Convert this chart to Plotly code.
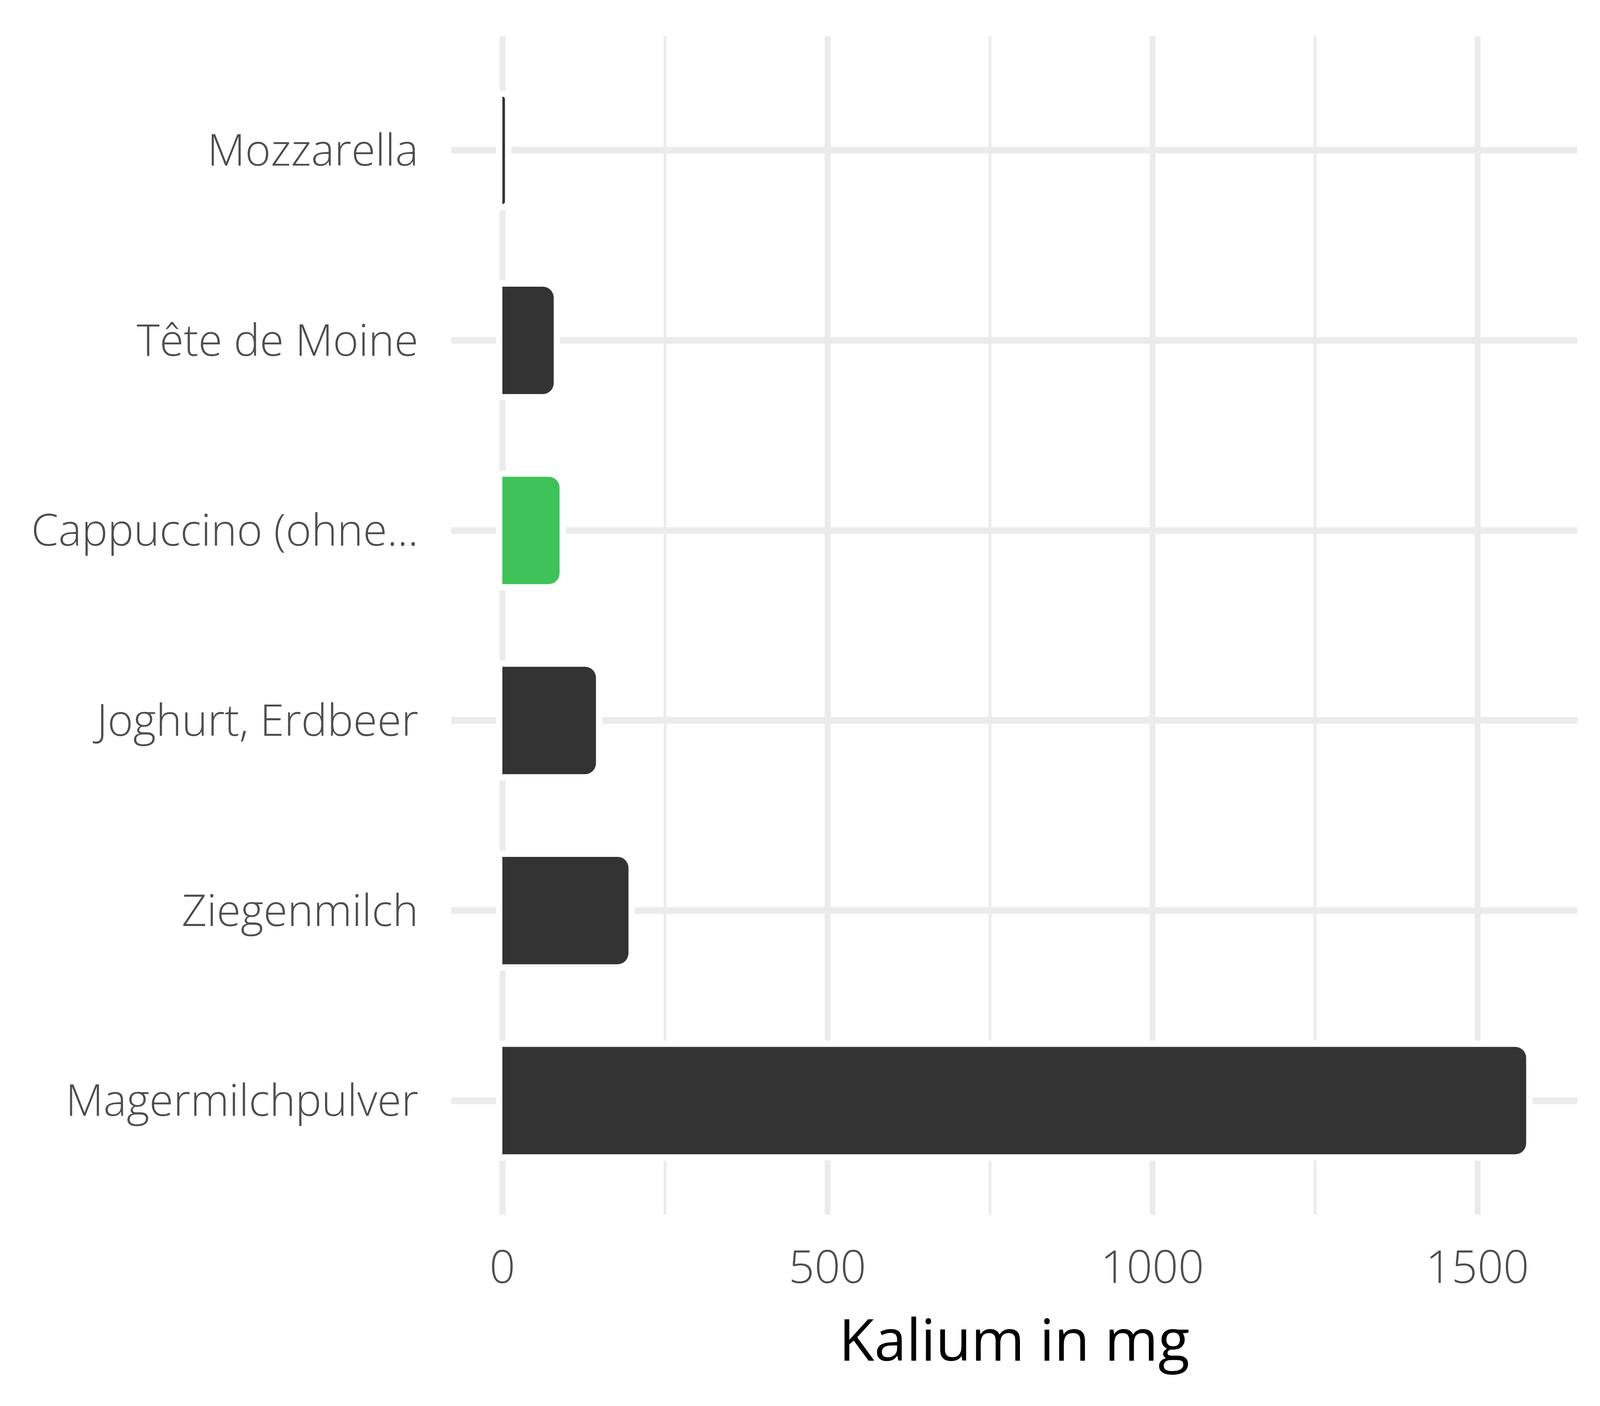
import plotly.graph_objects as go

categories = ["Mozzarella", "Tête de Moine", "Cappuccino (ohne...", "Joghurt, Erdbeer", "Ziegenmilch", "Magermilchpulver"]
kalium_mg = [4, 79, 88, 144, 194, 1575]
bar_colors = ["#333333", "#333333", "#3EC259", "#333333", "#333333", "#333333"]
x_ticks = [0, 500, 1000, 1500]
x_tick_labels = ["0", "500", "1000", "1500"]

fig = go.Figure()
# white halo behind bars (hides grid lines around the bars)
fig.add_trace(go.Bar(
    x=kalium_mg, y=categories, orientation="h", width=0.565,
    marker=dict(color="white", line=dict(color="white", width=32), cornerradius=28),
    hoverinfo="skip", showlegend=False,
))
fig.add_trace(go.Bar(
    x=kalium_mg, y=categories, orientation="h", width=0.565,
    marker=dict(color=bar_colors, line=dict(width=0), cornerradius=28),
    showlegend=False,
))

fig.update_layout(
    barmode="overlay",
    autosize=True,
    margin=dict(l=1147, r=50, t=85, b=482),
    plot_bgcolor="white", paper_bgcolor="white",
    font=dict(family="Open Sans", color="#4D4D4D"),
)
fig.update_xaxes(
    range=[-78.75, 1653.75],
    tickvals=x_ticks, ticktext=x_tick_labels,
    showgrid=True, gridcolor="#EBEBEB", gridwidth=14.5,
    minor=dict(tick0=0, dtick=250, showgrid=True, gridcolor="#EBEBEB", gridwidth=7.3),
    zeroline=False, showline=False, ticks="",
    tickfont=dict(size=116, color="#4D4D4D", family="Open Sans", weight=300),
    ticklabelstandoff=58,
    title=dict(text="Kalium in mg", font=dict(size=148, color="#000000", family="Open Sans"), standoff=62),
)
fig.update_yaxes(
    range=[5.6, -0.6],
    categoryorder="array", categoryarray=categories,
    showgrid=True, gridcolor="#EBEBEB", gridwidth=17,
    zeroline=False, showline=False, ticks="",
    tickfont=dict(size=112, color="#4D4D4D", family="Open Sans", weight=300),
    ticklabelstandoff=83,
)

fig.write_html("out.html", default_width="100%", default_height="100%")
